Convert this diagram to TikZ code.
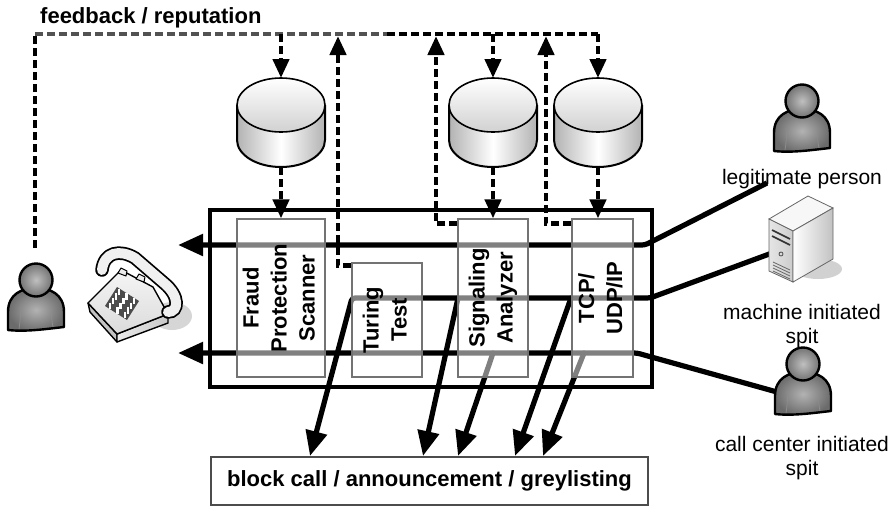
\documentclass[tikz,border=0pt]{standalone}
\usepackage{fontspec}
\setmainfont{Liberation Sans}
\usetikzlibrary{arrows.meta,calc}

\newcommand\stagefont{\fontsize{22}{28}\selectfont\bfseries}

\tikzset{
  hub/.style={draw=black, line width=3.8pt, inner sep=0pt},
  stage/.style={draw=black!55, line width=1.2pt, fill=white, fill opacity=0.5,
    text opacity=1, inner sep=0pt},
  callline/.style={line width=5.2pt, rounded corners=3pt},
  callarrow/.style={callline, -{Triangle[length=25pt,width=21pt]}},
  fbline/.style={line width=4.4pt, dash pattern=on 8pt off 4pt},
  fbarrow/.style={fbline, -{Triangle[length=19pt,width=16pt]}},
  tag/.style={font=\fontsize{21}{24}\selectfont, align=center, inner sep=0pt},
  anchorbox/.style={inner sep=0pt, outer sep=0pt},
}

% database drum centred at x = #1
\newcommand\drum[1]{%
  \begin{scope}[shift={(#1,0)}]
    \fill[left color=black!30, right color=black!30, middle color=white]
      (-44,105) -- (-44,140) arc[start angle=180, end angle=0, x radius=44, y radius=27]
      -- (44,105) -- cycle;
    \draw[line width=2pt]
      (-44,105) -- (-44,140) arc[start angle=180, end angle=0, x radius=44, y radius=27]
      -- (44,105);
    \draw[line width=1.6pt, top color=white, bottom color=black!18]
      (0,105) ellipse[x radius=44, y radius=27];
  \end{scope}}

% user figure, head centred at (#1,#2)
\newcommand\usericon[2]{%
  \begin{scope}[shift={(#1,#2)}]
    \draw[line width=2.4pt, line join=round, inner color=black!30, outer color=black!58]
      (-28,50) -- (-28,32) .. controls (-28,14) and (-14,8) .. (0,8)
      .. controls (14,8) and (28,14) .. (28,32) -- (28,47)
      .. controls (10,49) and (-10,52) .. (-28,50) -- cycle;
    \draw[black!45, line width=0.8pt] (-16,27) .. controls (-15,36) and (-16,42) .. (-17,49);
    \draw[black!45, line width=0.8pt] (16,27) .. controls (15,36) and (16,42) .. (17,47);
    \draw[line width=2.4pt, inner color=black!25, outer color=black!55]
      (0,0) circle[radius=16.5];
  \end{scope}}

\begin{document}
\begin{tikzpicture}[x=1pt, y=-1pt]
\useasboundingbox (0,0) rectangle (892,507);

% ---------- nodes ----------
\node[hub, minimum width=442pt, minimum height=177pt] (module) at (431,298.5) {};

\node[anchorbox, minimum width=88pt, minimum height=89pt] (db1) at (281,122.5) {};
\node[anchorbox, minimum width=88pt, minimum height=89pt] (db2) at (493,122.5) {};
\node[anchorbox, minimum width=88pt, minimum height=89pt] (db3) at (598,122.5) {};

\node[anchorbox, minimum width=58pt, minimum height=70pt] (caller) at (35,298) {};
\node[anchorbox, minimum width=105pt, minimum height=95pt] (phone) at (140,297) {};
\node[anchorbox, minimum width=58pt, minimum height=70pt] (legit) at (802,118) {};
\node[anchorbox, minimum width=66pt, minimum height=88pt] (server) at (801,238) {};
\node[anchorbox, minimum width=58pt, minimum height=70pt] (ccperson) at (803,382) {};

% ---------- connector end points ----------
\coordinate (legitport) at (767,183);
\coordinate (srvport) at (772,253);
\coordinate (ccport) at (777,392);
\coordinate (phoneA) at (178,245);
\coordinate (phoneB) at (178,353);
\coordinate (bendA) at (645,245);
\coordinate (bendB) at (650,298);
\coordinate (bendC) at (637,353);
\coordinate (t1) at (310,456);
\coordinate (t2) at (423,456);
\coordinate (t3) at (458,456);
\coordinate (t4) at (515,456);
\coordinate (t5) at (543,456);

% ---------- call paths ----------
\draw[callarrow] (legitport) -- (bendA) -- (phoneA);
\draw[callarrow] (ccport) -- (bendC) -- (phoneB);
\draw[callarrow] (srvport) -- (bendB) -- (352,298) -- (t1);
\draw[callarrow, line cap=round] (458,298) -- (t2);
\draw[callarrow, line cap=round] (493,353) -- (t3);
\draw[callarrow, line cap=round] (571,298) -- (t4);
\draw[callarrow, line cap=round] (584,353) -- (t5);

% ---------- processing stages ----------
\node[stage, minimum width=88pt, minimum height=158pt] (fraud) at (281,298)
  {\rotatebox{90}{\stagefont\begin{tabular}{@{}c@{}}Fraud\\Protection\\Scanner\end{tabular}}};
\node[stage, minimum width=70pt, minimum height=114pt] (turing) at (387,320)
  {\rotatebox{90}{\stagefont\begin{tabular}{@{}c@{}}Turing\\Test\end{tabular}}};
\node[stage, minimum width=70pt, minimum height=158pt] (signal) at (493,298)
  {\rotatebox{90}{\stagefont\begin{tabular}{@{}c@{}}Signaling\\Analyzer\end{tabular}}};
\node[stage, minimum width=61pt, minimum height=158pt] (tcp) at (602.5,298)
  {\rotatebox{90}{\stagefont\begin{tabular}{@{}c@{}}TCP/\\UDP/IP\end{tabular}}};

\node[draw=black!70, line width=1.3pt, minimum width=437pt, minimum height=48pt,
  font=\fontsize{22}{26}\selectfont\bfseries] (block) at (429.5,481)
  {block call / announcement / greylisting};

% ---------- feedback loop ----------
\coordinate (fbstart) at (35,248);
\coordinate (fbL) at (35,34);
\coordinate (fbM) at (387,34);
\coordinate (fbR) at (598,34);
\coordinate (up1) at (338,36);
\coordinate (up2) at (436,36);
\coordinate (up3) at (546,36);

\draw[fbline] (fbstart) -- (fbL);
\draw[fbline, black!68] (fbL) -- (fbM);
\draw[fbline] (fbM) -- (fbR);

\draw[fbarrow] (db1.north |- fbL) -- (db1.north);
\draw[fbarrow] (db2.north |- fbL) -- (db2.north);
\draw[fbarrow] (fbR) -- (db3.north);
\draw[fbarrow] (db1.south) -- (db1.south |- fraud.north);
\draw[fbarrow] (db2.south) -- (db2.south |- signal.north);
\draw[fbarrow] (db3.south) -- (db3.south |- tcp.north);

\draw[fbarrow] ($(turing.north west)+(0,3)$) -| (up1);
\draw[fbarrow] ($(signal.north west)+(0,5)$) -| (up2);
\draw[fbarrow] ($(tcp.north west)+(0,5)$) -| (up3);

% ---------- databases ----------
\drum{281}
\drum{493}
\drum{598}

% ---------- users ----------
\usericon{36}{280}
\usericon{802}{101}
\usericon{803}{364}

% ---------- telephone ----------
\fill[black!16] (172,316) ellipse[x radius=20, y radius=14];
% body
\draw[line width=1.4pt, line join=round, fill=black!24]
  (88,303) -- (117,334) -- (117,342) -- (90,312) -- cycle;
\draw[line width=1.4pt, line join=round, left color=black!8, right color=black!22]
  (117,334) -- (168,314) -- (168,323) -- (117,342) -- cycle;
\draw[line width=1.4pt, line join=round, top color=black!4, bottom color=black!14]
  (88,303) -- (121,270) -- (153,287) -- (168,314) -- (117,334) -- cycle;
% cradle
\draw[line width=1pt, line join=round, fill=black!8]
  (118,273) -- (121,268) -- (127,271) -- (126,276) -- cycle;
\draw[line width=1pt, line join=round, fill=black!8]
  (136,279) -- (139,274) -- (145,277) -- (144,282) -- cycle;
% keypad
\fill[black!70] (105,306) -- (117,287) -- (139,301) -- (127,320) -- cycle;
\begin{scope}[shift={(117,287)}, x={(7.33pt,-4.67pt)}, y={(-3pt,-4.75pt)}]
  \foreach \i in {0,1,2} \foreach \j in {0,1,2,3}
    \fill[white] (\i+0.18,\j+0.15) rectangle (\i+0.82,\j+0.85);
\end{scope}
% handset
\draw[line width=13.5pt, line cap=round]
  (102,270) .. controls (104,252) and (120,249) .. (135,258) -- (164,283)
  .. controls (180,296) and (179,312) .. (168,312);
\draw[line width=10pt, line cap=round, black!6]
  (102,270) .. controls (104,252) and (120,249) .. (135,258) -- (164,283)
  .. controls (180,296) and (179,312) .. (168,312);

% ---------- server ----------
\fill[black!18] (818,269) ellipse[x radius=24, y radius=10];
\draw[black!60, line width=0.8pt, fill=black!3]
  (769,219) -- (808,196) -- (833,208) -- (793,231) -- cycle;
\draw[black!60, line width=0.8pt, left color=black!10, right color=black!20]
  (769,219) -- (793,231) -- (793,282) -- (769,271) -- cycle;
\draw[black!60, line width=0.8pt, left color=white, right color=black!24]
  (793,231) -- (833,208) -- (833,259) -- (793,282) -- cycle;
\draw[black!80, line width=1.6pt] (772,230) -- (790,239);
\draw[black!80, line width=1.6pt] (772,236) -- (790,245);
\draw[black!70, line width=0.8pt] (781,254) circle[radius=2];
\foreach \k in {0,1,2,3}
  \draw[black!60, line width=0.8pt] (773,262+3*\k) -- (790,270+3*\k);

% ---------- labels ----------
\node[anchor=base west, inner sep=0pt, font=\fontsize{22}{26}\selectfont\bfseries]
  (fbtag) at (40,23) {feedback / reputation};
\node[tag, anchor=base] (legittag) at (802,184) {legitimate person};
\node[tag, anchor=north] (srvtag) at (802,304) {machine initiated\\spit};
\node[tag, anchor=north] (cctag) at (802,436) {call center initiated\\spit};

\end{tikzpicture}
\end{document}
